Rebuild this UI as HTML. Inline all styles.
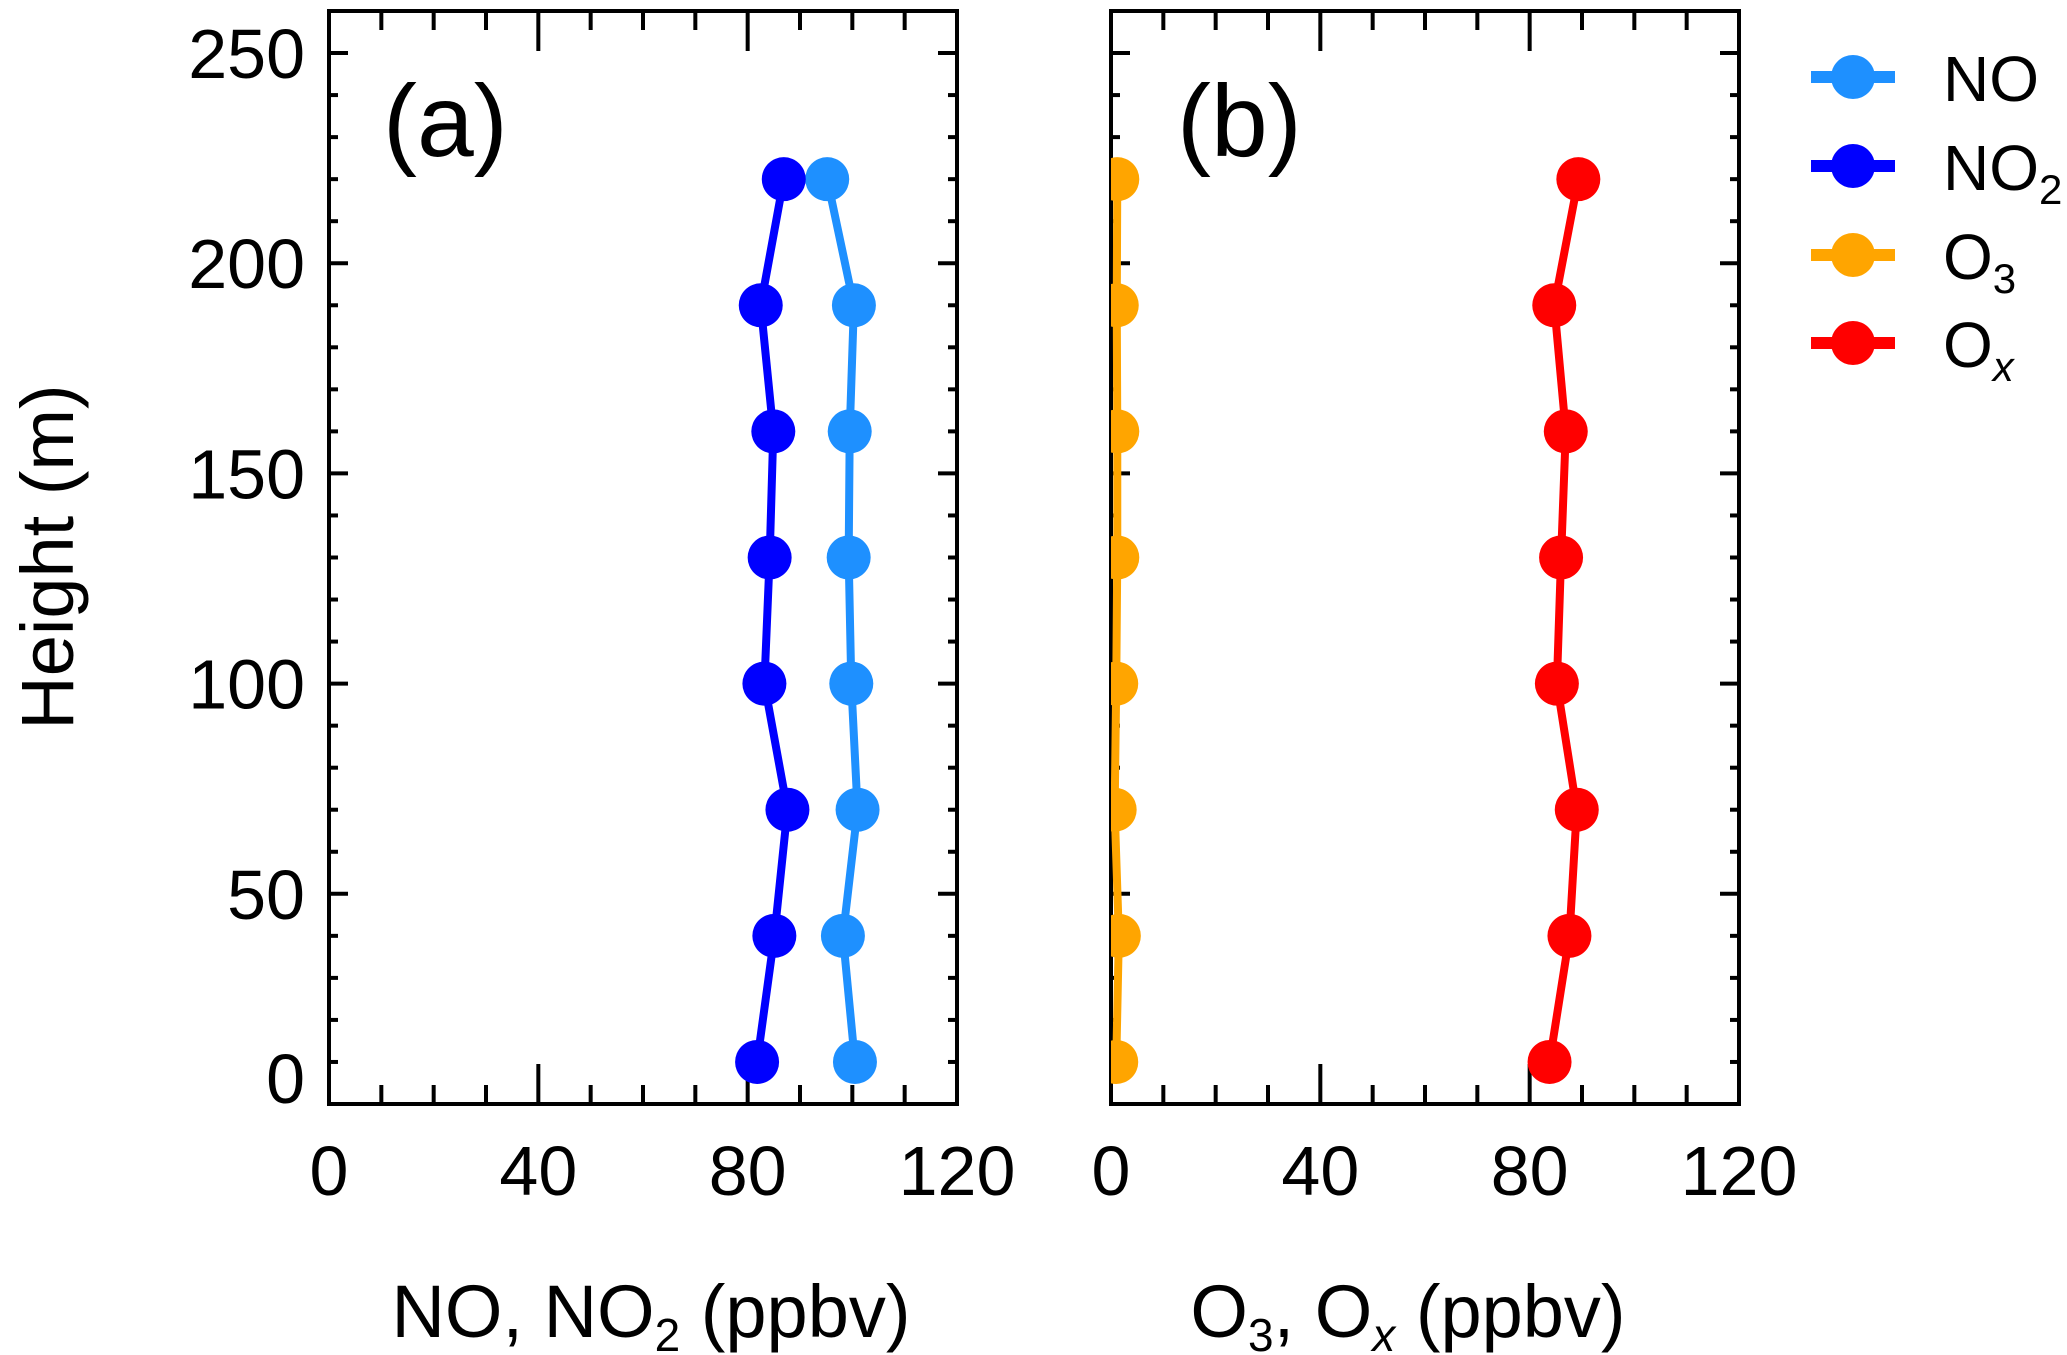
<!DOCTYPE html>
<html><head><meta charset="utf-8"><style>
html,body{margin:0;padding:0;background:#fff;}
svg{display:block;font-family:"Liberation Sans",Arial,sans-serif;}
</style></head><body>
<svg id="chart" width="2067" height="1355" viewBox="0 0 2067 1355" xmlns="http://www.w3.org/2000/svg">
<defs>
<clipPath id="clipA"><rect x="329" y="11" width="628" height="1093"/></clipPath>
<clipPath id="clipB"><rect x="1111" y="11" width="628" height="1093"/></clipPath>
</defs>
<g id="axes"></g>
<g id="series"></g>
<text x="383" y="156" font-size="102">(a)</text>
<text x="1177" y="156" font-size="102">(b)</text>
<text x="651" y="1337" font-size="74" text-anchor="middle">NO, NO<tspan font-size="46" dy="14">2</tspan><tspan dy="-14"> (ppbv)</tspan></text>
<text x="1408" y="1337" font-size="74" text-anchor="middle">O<tspan font-size="46" dy="14">3</tspan><tspan dy="-14">, O</tspan><tspan font-size="46" dy="14" font-style="italic">x</tspan><tspan dy="-14"> (ppbv)</tspan></text>
<text x="0" y="0" font-size="74" text-anchor="middle" transform="translate(73,557) rotate(-90)">Height (m)</text>
<g id="legend"></g>
</svg>
<script>
const heights = [10, 40, 70, 100, 130, 160, 190, 220];
const noVals  = [100.5, 98.2, 101.0, 99.8, 99.3, 99.5, 100.3, 95.2];
const no2Vals = [81.8, 85.1, 87.6, 83.2, 84.2, 84.9, 82.5, 86.9];
const o3Vals  = [1.0, 1.5, 0.7, 1.0, 1.2, 1.2, 1.1, 1.2];
const oxVals  = [83.8, 87.6, 89.0, 85.2, 86.0, 86.9, 84.7, 89.3];
const xTicks = [0, 40, 80, 120];
const yTicks = [0, 50, 100, 150, 200, 250];

const NS = "http://www.w3.org/2000/svg";
const Y0 = 1104, Y1 = 11, YMAX = 260;
function yScale(v){ return Y0 - v * (Y0 - Y1) / YMAX; }
function xScaleA(v){ return 329 + v * 628 / 120; }
function xScaleB(v){ return 1111 + v * 628 / 120; }
function mk(tag, attrs, parent){
  const e = document.createElementNS(NS, tag);
  for (const k in attrs) e.setAttribute(k, attrs[k]);
  parent.appendChild(e); return e;
}
const axes = document.getElementById('axes');
const series = document.getElementById('series');

function drawPanel(L, xs, labelsY, name){
  const R = L + 628;
  const frame = mk('rect', {x:L, y:Y1, width:628, height:Y0-Y1, fill:'none', stroke:'#000', 'stroke-width':4}, axes);
  
  
  for (let v = 0; v <= 120; v += 10){
    const x = xs(v); const len = (v % 40 === 0) ? 40 : 19;
    const t1 = mk('line', {x1:x, x2:x, y1:Y0, y2:Y0-len, stroke:'#000','stroke-width':4}, axes);
    
    
    const t2 = mk('line', {x1:x, x2:x, y1:Y1, y2:Y1+len, stroke:'#000','stroke-width':4}, axes);
    
    
  }
  for (let v = 10; v <= 250; v += 10){
    const y = yScale(v); const len = (v % 50 === 0) ? 19 : 9;
    const t1 = mk('line', {x1:L, x2:L+len, y1:y, y2:y, stroke:'#000','stroke-width':4}, axes);
    
    
    const t2 = mk('line', {x1:R, x2:R-len, y1:y, y2:y, stroke:'#000','stroke-width':4}, axes);
    
    
  }
  xTicks.forEach(v => {
    const t = mk('text', {x:xs(v), y:1195, 'font-size':70, 'text-anchor':'middle'}, axes);
    t.textContent = v;
    
    
  });
  if (labelsY){
    yTicks.forEach(v => {
      const yy = v === 0 ? 1078 : yScale(v);
      const t = mk('text', {x:305, y:yy + 25, 'font-size':70, 'text-anchor':'end'}, axes);
      t.textContent = v;
      
      
    });
  }
}
drawPanel(329, xScaleA, true, 'panel-a');
drawPanel(1111, xScaleB, false, 'panel-b');

function drawSeries(vals, xs, color, clip, name){
  const g = mk('g', {'clip-path':'url(#' + clip + ')'}, series);
  
  
  const pts = vals.map((v, i) => xs(v) + ',' + yScale(heights[i])).join(' ');
  const pl = mk('polyline', {points:pts, fill:'none', stroke:color, 'stroke-width':8, 'stroke-linejoin':'round'}, g);
  
  
  vals.forEach((v, i) => {
    const c = mk('circle', {cx:xs(v), cy:yScale(heights[i]), r:22, fill:color}, g);
    
    
  });
}
drawSeries(noVals, xScaleA, '#1e90ff', 'clipA', 'no');
drawSeries(no2Vals, xScaleA, '#0000ff', 'clipA', 'no2');
drawSeries(o3Vals, xScaleB, '#ffa500', 'clipB', 'o3');
drawSeries(oxVals, xScaleB, '#ff0000', 'clipB', 'ox');

const legendNames = ['NO', 'NO2', 'O3', 'Ox'];
const legendColors = ['#1e90ff', '#0000ff', '#ffa500', '#ff0000'];
const legendY = [77, 166, 255, 343];
const lg = document.getElementById('legend');
legendNames.forEach((n, i) => {
  const y = legendY[i];
  const g = mk('g', {}, lg);
  
  
  mk('line', {x1:1811, x2:1895, y1:y, y2:y, stroke:legendColors[i], 'stroke-width':12}, g);
  mk('circle', {cx:1853, cy:y, r:22, fill:legendColors[i]}, g);
  const t = mk('text', {x:1943, y:y + 24, 'font-size':64}, g);
  if (n === 'NO') { t.textContent = 'NO'; }
  else {
    const main = n === 'NO2' ? 'NO' : 'O';
    const sub = n === 'NO2' ? '2' : (n === 'O3' ? '3' : 'x');
    t.textContent = main;
    const s = mk('tspan', {'font-size':42, dy:14}, t);
    if (sub === 'x') s.setAttribute('font-style', 'italic');
    s.textContent = sub;
  }
});
</script>
</body></html>
